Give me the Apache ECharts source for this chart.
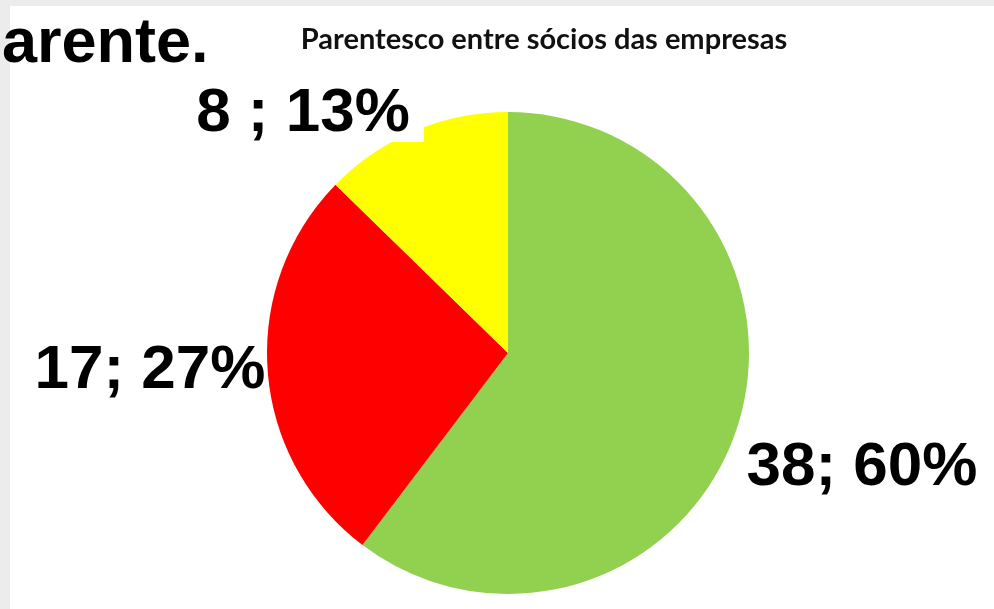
<!DOCTYPE html>
<html>
<head>
<meta charset="utf-8">
<script src="https://cdn.jsdelivr.net/npm/echarts@6/dist/echarts.min.js"></script>
<style>
html,body{margin:0;padding:0;background:#ececec;}
#chart{width:994px;height:609px;}
</style>
</head>
<body>
<div id="chart"></div>
<script>
const categories = ["Sócios parentes A", "Sócios parentes B", "Sócios parentes C"];
const values = [38, 17, 8];
const separators = ["; ", "; ", " ; "];
const colors = ["#92d050", "#ff0000", "#ffff00"];
const titleText = "Parentesco entre sócios das empresas";
const headingText = "arente.";

const chart = echarts.init(document.getElementById('chart'));
const labelPos = [[862, 468], [150, 371], [307, 114]];

chart.setOption({
  backgroundColor: '#ececec',
  animation: false,
  graphic: [
    { type: 'rect', z: -10, shape: { x: 10, y: 6, width: 984, height: 603 }, style: { fill: '#ffffff' } },
    { type: 'text', z: 10, left: 2, top: 13, style: { text: headingText, font: 'bold 63px "Liberation Sans", Arial, sans-serif', fill: '#000' } }
  ],
  title: {
    text: titleText,
    left: 539, top: 20,
    textAlign: 'center',
    textStyle: { fontFamily: 'Lato', fontWeight: 'bold', fontSize: 29, color: '#111' }
  },
  series: [{
    type: 'pie',
    center: [508, 353],
    radius: [0, 241],
    startAngle: 90,
    clockwise: true,
    silent: true,
    itemStyle: { borderWidth: 0 },
    data: categories.map((c, i) => ({
      name: c, value: values[i], itemStyle: { color: colors[i] },
      label: i === 2 ? { backgroundColor: '#ffffff', padding: [0, 14, 0, 6], lineHeight: 56 } : {}
    })),
    label: {
      show: true,
      position: 'outside',
      overflow: 'none',
      formatter: p => p.value + separators[p.dataIndex] + Math.round(p.percent) + '%',
      fontFamily: '"Liberation Sans", Arial, sans-serif',
      fontWeight: 'bold',
      fontSize: 62,
      color: '#000'
    },
    labelLine: { show: false },
    labelLayout: p => ({ x: labelPos[p.dataIndex][0], y: labelPos[p.dataIndex][1], align: 'center', verticalAlign: 'middle' })
  }]
});
</script>
</body>
</html>
